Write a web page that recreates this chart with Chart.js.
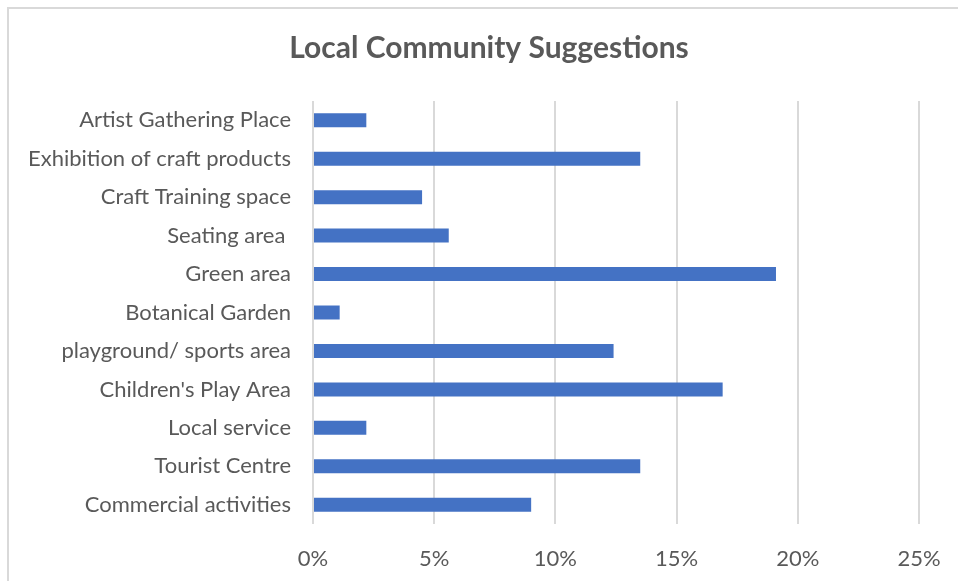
<!DOCTYPE html>
<html>
<head>
<meta charset="utf-8">
<title>Local Community Suggestions</title>
<script src="https://cdn.jsdelivr.net/npm/chart.js@4.4.1/dist/chart.umd.min.js"></script>
<style>
  html, body { margin: 0; padding: 0; background: #fff; overflow: hidden; }
  #frame {
    position: absolute; left: 7px; top: 7px;
    width: 1000px; height: 1000px;
    border: 2px solid #d9d9d9;
  }
  #chart { position: absolute; left: 0; top: 0; }
</style>
</head>
<body>
<div id="frame"></div>
<canvas id="chart" width="958" height="581"></canvas>
<script>
// categorías (de arriba hacia abajo) y porcentajes
const categorias = [
  'Artist Gathering Place',
  'Exhibition of craft products',
  'Craft Training space',
  'Seating area ',
  'Green area',
  'Botanical Garden',
  'playground/ sports area',
  "Children's Play Area",
  'Local service',
  'Tourist Centre',
  'Commercial activities'
];
const porcentajes = [2.2, 13.5, 4.5, 5.6, 19.1, 1.1, 12.4, 16.9, 2.2, 13.5, 9.0];
const ticksX = [0, 5, 10, 15, 20, 25];
const titulo = 'Local Community Suggestions';

const gris = '#595959';
const fuente = 'Lato, "Open Sans", sans-serif';

// Título centrado sobre el marco (el marco sigue más allá del borde derecho)
const tituloMarco = {
  id: 'tituloMarco',
  afterDraw(chart) {
    const c = chart.ctx;
    c.save();
    c.font = 'bold 30px ' + fuente;
    c.fillStyle = gris;
    c.textAlign = 'center';
    c.textBaseline = 'middle';
    c.fillText(titulo, 489, 48);
    c.restore();
  }
};

const ctx = document.getElementById('chart').getContext('2d');
const chart = new Chart(ctx, {
  type: 'bar',
  data: {
    labels: categorias,
    datasets: [{
      data: porcentajes,
      backgroundColor: '#4472c4',
      borderWidth: 0,
      barPercentage: 0.364,
      categoryPercentage: 1
    }]
  },
  options: {
    indexAxis: 'y',
    responsive: false,
    animation: false,
    layout: { padding: { left: 0, right: 39, top: 101, bottom: 0 } },
    plugins: {
      legend: { display: false },
      tooltip: { enabled: false },
      title: { display: false }
    },
    scales: {
      x: {
        min: 0,
        max: 25,
        afterBuildTicks: s => { s.ticks = ticksX.map(v => ({ value: v })); },
        afterFit: s => {
          s.height = 57;
          // sin margen extra por la etiqueta "25%"
          s.paddingLeft = 0;
          s.paddingRight = 0;
        },
        grid: { color: '#d9d9d9', lineWidth: 2, drawTicks: false },
        border: { display: false },
        ticks: {
          color: gris,
          padding: 22,
          font: { family: fuente, size: 22 },
          callback: v => v + '%'
        }
      },
      y: {
        afterFit: s => { s.width = 313; },
        grid: { display: false, drawTicks: false },
        border: { display: false },
        ticks: {
          color: gris,
          padding: 22,
          font: { family: fuente, size: 22 }
        }
      }
    }
  },
  plugins: [tituloMarco]
});
</script>
</body>
</html>
